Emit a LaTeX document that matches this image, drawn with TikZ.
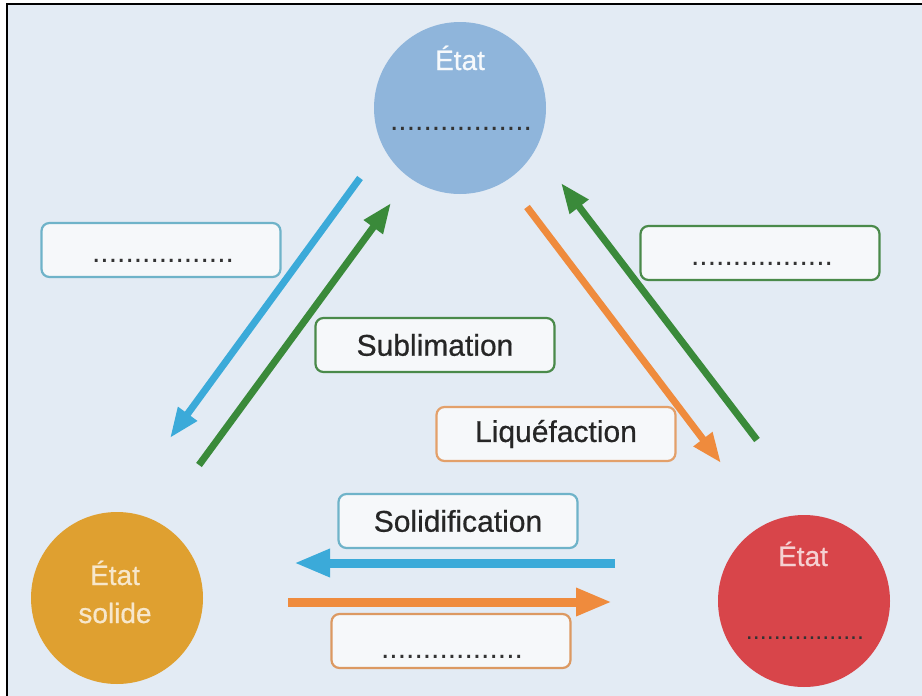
\documentclass[tikz,border=0pt]{standalone}
\usepackage{fontspec}
\setmainfont{Liberation Sans}
\newfontfamily\epais[FakeBold=0.6]{Liberation Sans}
\usepackage{tikz}
\usetikzlibrary{arrows.meta}

\definecolor{fond}{HTML}{E3EBF4}
\definecolor{bleuEtat}{HTML}{8FB5DB}
\definecolor{orEtat}{HTML}{DFA030}
\definecolor{rougeEtat}{HTML}{D8454A}
\definecolor{flecheBleue}{HTML}{3BAAD9}
\definecolor{flecheVerte}{HTML}{3A8A3A}
\definecolor{flecheOrange}{HTML}{EF8B3D}
\definecolor{cadreBleu}{HTML}{6FB3C9}
\definecolor{cadreVert}{HTML}{4A8A4A}
\definecolor{cadreOrange}{HTML}{E3A06A}
\definecolor{boiteFond}{HTML}{F6F8FA}

\newcommand{\pointilles}{.................}

\begin{document}
\begin{tikzpicture}[x=1pt,y=-1pt,
	etat/.style={circle, minimum size=172pt, inner sep=0pt},
	boite/.style={draw, line width=2.2pt, rounded corners=8pt, fill=boiteFond,
		minimum width=239pt, minimum height=54pt, inner sep=0pt,
		text=black!85, font=\epais\fontsize{30}{34}\selectfont},
	points/.style={text=black!80, font=\fontsize{30}{32}\selectfont, inner sep=0pt},
	titre/.style={font=\epais\fontsize{28}{32}\selectfont, inner sep=0pt},
	fleche/.style={line width=7pt, -{Triangle[length=30pt,width=22pt]}},
	flecheH/.style={line width=9pt, -{Triangle[length=36pt,width=26pt]}}]
	%% frame
	\useasboundingbox (0,0) rectangle (922,696);
	\fill[white] (0,0) rectangle (922,696);
	\fill[fond] (7,4) rectangle (922,696);
	\draw[line width=2pt] (7,696) -- (7,4) -- (922,4);
	%% states
	\node[etat, fill=bleuEtat] (gaz) at (460,108) {};
	\node[titre, text=white!92!bleuEtat] at (460,58) {État};
	\node[points] at (461,129) {\pointilles};
	\node[etat, fill=orEtat] (solide) at (117,598) {};
	\node[titre, text=orEtat!25!white, align=center] at (115,592) {État\\[6pt]solide};
	\node[etat, fill=rougeEtat] (liquide) at (804,601) {};
	\node[titre, text=rougeEtat!25!white] at (803,554) {État};
	\node[points, font=\fontsize{25}{28}\selectfont] at (805,638) {\pointilles};
	%% arrows
	\coordinate (gsA) at (360,178);  \coordinate (gsB) at (170,438);
	\coordinate (sgA) at (199,465);  \coordinate (sgB) at (391,203);
	\coordinate (glA) at (527,207);  \coordinate (glB) at (721,463);
	\coordinate (lgA) at (757,440);  \coordinate (lgB) at (561,183);
	\coordinate (lsA) at (615,563);  \coordinate (lsB) at (294,563);
	\coordinate (slA) at (288,602);  \coordinate (slB) at (612,602);
	\draw[fleche, flecheBleue] (gsA) -- (gsB);
	\draw[fleche, flecheVerte] (sgA) -- (sgB);
	\draw[fleche, flecheOrange] (glA) -- (glB);
	\draw[fleche, flecheVerte] (lgA) -- (lgB);
	\draw[flecheH, flecheBleue] (lsA) -- (lsB);
	\draw[flecheH, flecheOrange] (slA) -- (slB);
	%% labels
	\node[boite, draw=cadreBleu] (condensation) at (161,250) {};
	\node[points] at (163,261) {\pointilles};
	\node[boite, draw=cadreVert] (vaporisation) at (760,253) {};
	\node[points] at (762,264) {\pointilles};
	\node[boite, draw=cadreVert] (sublimation) at (435,345) {Sublimation};
	\node[boite, draw=cadreOrange] (liquefaction) at (556,434) {Liquéfaction};
	\node[boite, draw=cadreBleu] (solidification) at (458,521) {Solidification};
	\node[boite, draw=cadreOrange!80!brown] (fusion) at (451,641) {};
	\node[points] at (452,657) {\pointilles};
\end{tikzpicture}
\end{document}
